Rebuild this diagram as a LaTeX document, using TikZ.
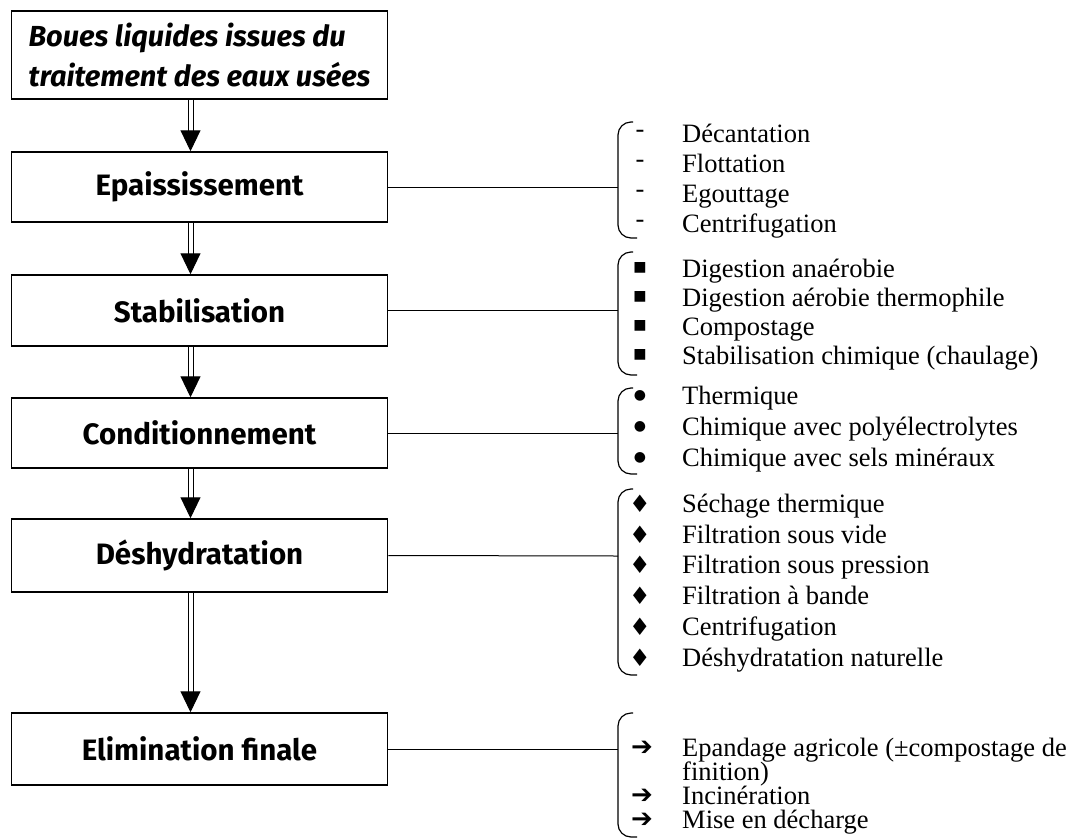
\documentclass[tikz,border=0pt]{standalone}
\usepackage{fontspec}
\setmainfont{Liberation Serif}
\newfontfamily\boxfont{Fira Sans}
\newfontfamily\symfont{DejaVu Sans}
\usetikzlibrary{arrows.meta}

\begin{document}
\begin{tikzpicture}[x=1pt, y=-1pt, stage/.style={draw, line width=1.5pt, minimum width=376pt, inner sep=0pt, font=\boxfont\bfseries\fontsize{29.5}{34}\selectfont}, flow/.style={double, double distance=4pt, line width=1pt, -{Triangle[width=20pt,length=21pt]}}, link/.style={line width=1pt}, brk/.style={line width=1.2pt, rounded corners=13pt}, entry/.style={anchor=base west, inner sep=0pt, font=\fontsize{26.5}{30}\selectfont}, hyph/.style={inner sep=0pt, font=\fontsize{26.5}{30}\selectfont}, bul/.style={inner sep=0pt, font=\symfont\fontsize{14}{14}\selectfont}, diam/.style={inner sep=0pt, font=\symfont\fontsize{24}{24}\selectfont}, arr/.style={inner sep=0pt, font=\symfont\bfseries\fontsize{26}{26}\selectfont}]
      \useasboundingbox (0,0) rectangle (1074,839);

      \node[stage, minimum height=88pt, align=left, font=\boxfont\bfseries\itshape\fontsize{29}{40}\selectfont] (boues) at (199.5,55) {Boues liquides issues du\\traitement des eaux usées};
      \node[stage, minimum height=70pt] (epais) at (199.5,187) {Epaississement};
      \node[stage, minimum height=71pt] (stab)  at (199.5,310.5) {Stabilisation};
      \node[stage, minimum height=70pt] (cond)  at (199.5,433) {Conditionnement};
      \node[stage, minimum height=73pt] (deshy) at (199.5,555.5) {Déshydratation};
      \node[stage, minimum height=72pt] (elim)  at (199.5,749) {Elimination finale};

      % double arrows between the stages
      \draw[flow] ([xshift=-9pt]boues.south) -- ([xshift=-9pt]epais.north);
      \draw[flow] ([xshift=-9pt]epais.south) -- ([xshift=-9pt]stab.north);
      \draw[flow] ([xshift=-9pt]stab.south)  -- ([xshift=-9pt]cond.north);
      \draw[flow] ([xshift=-9pt]cond.south)  -- ([xshift=-9pt]deshy.north);
      \draw[flow] ([xshift=-9pt]deshy.south) -- ([xshift=-9pt]elim.north);

      % brackets
      \draw[brk] (633,122) -- (618,122) -- (618,238) -- (637,238);
      \draw[brk] (633,252) -- (618,252) -- (618,375) -- (637,375);
      \draw[brk] (633,388) -- (618,388) -- (618,474) -- (637,474);
      \draw[brk] (633,489) -- (618,489) -- (618,675) -- (637,675);
      \draw[brk] (633,713) -- (618,713) -- (618,837) -- (637,837);

      \coordinate (k1) at (618,187);
      \coordinate (k2) at (618,310.5);
      \coordinate (k3) at (618,433);
      \coordinate (k4) at (618,556);
      \coordinate (k5) at (618,749);
      \draw[link] (epais.east) -- (k1);
      \draw[link] (stab.east)  -- (k2);
      \draw[link] (cond.east)  -- (k3);
      \draw[link] (deshy.east) -- (k4);
      \draw[link] (elim.east)  -- (k5);

      % Epaississement
      \node[hyph] (h1) at (640,134) {-};
      \node[hyph] (h2) at (640,164) {-};
      \node[hyph] (h3) at (640,194) {-};
      \node[hyph] (h4) at (640,224) {-};
      \node[entry] (e1) at (682,142) {Décantation};
      \node[entry] (e2) at (682,172) {Flottation};
      \node[entry] (e3) at (682,202) {Egouttage};
      \node[entry] (e4) at (682,232) {Centrifugation};

      % Stabilisation
      \node[bul] (q1) at (640,268) {■};
      \node[bul] (q2) at (640,297) {■};
      \node[bul] (q3) at (640,326) {■};
      \node[bul] (q4) at (640,355) {■};
      \node[entry] (s1) at (682,277) {Digestion anaérobie};
      \node[entry] (s2) at (682,306) {Digestion aérobie thermophile};
      \node[entry] (s3) at (682,335) {Compostage};
      \node[entry] (s4) at (682,364) {Stabilisation chimique (chaulage)};

      % Conditionnement
      \node[bul] (p1) at (640,396) {●};
      \node[bul] (p2) at (640,427) {●};
      \node[bul] (p3) at (640,458) {●};
      \node[entry] (c1) at (682,404) {Thermique};
      \node[entry] (c2) at (682,435) {Chimique avec polyélectrolytes};
      \node[entry] (c3) at (682,466) {Chimique avec sels minéraux};

      % Deshydratation
      \node[diam] (l1) at (640,504) {♦};
      \node[diam] (l2) at (640,535) {♦};
      \node[diam] (l3) at (640,565) {♦};
      \node[diam] (l4) at (640,596) {♦};
      \node[diam] (l5) at (640,627) {♦};
      \node[diam] (l6) at (640,658) {♦};
      \node[entry] (d1) at (682,512) {Séchage thermique};
      \node[entry] (d2) at (682,543) {Filtration sous vide};
      \node[entry] (d3) at (682,573) {Filtration sous pression};
      \node[entry] (d4) at (682,604) {Filtration à bande};
      \node[entry] (d5) at (682,635) {Centrifugation};
      \node[entry] (d6) at (682,666) {Déshydratation naturelle};

      % Elimination finale
      \node[arr] (a1) at (642,748) {➔};
      \node[arr] (a2) at (642,796) {➔};
      \node[arr] (a3) at (642,820) {➔};
      \node[entry] (f1) at (682,756) {Epandage agricole (±compostage de};
      \node[entry] (f2) at (682,780) {finition)};
      \node[entry] (f3) at (682,804) {Incinération};
      \node[entry] (f4) at (682,828) {Mise en décharge};
    \end{tikzpicture}
\end{document}
